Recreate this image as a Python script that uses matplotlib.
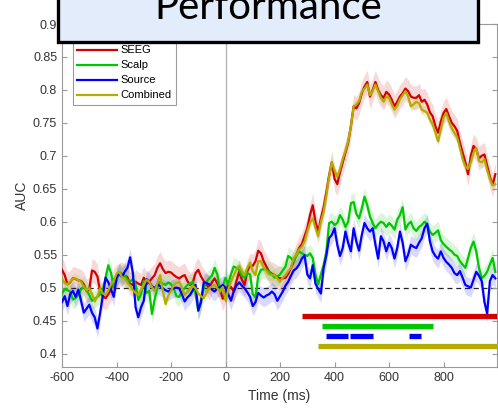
import numpy as np
import matplotlib
matplotlib.use('Agg')
import matplotlib.pyplot as plt
from matplotlib.patches import Rectangle

plt.rcParams['font.family'] = ['Liberation Sans', 'DejaVu Sans']
plt.rcParams['axes.unicode_minus'] = False

# time axis (ms)
time_ms = np.arange(-600, 1000, 10)

# AUC per modality (10 ms steps)
seeg = [
    0.527, 0.519, 0.505, 0.508, 0.514, 0.513, 0.511, 0.510, 0.505, 0.495,
    0.497, 0.526, 0.524, 0.517, 0.494, 0.487, 0.484, 0.490, 0.498, 0.512,
    0.517, 0.519, 0.521, 0.518, 0.516, 0.506, 0.504, 0.509, 0.506, 0.504,
    0.515, 0.505, 0.509, 0.514, 0.519, 0.530, 0.537, 0.528, 0.522, 0.524,
    0.523, 0.519, 0.516, 0.514, 0.517, 0.519, 0.510, 0.504, 0.508, 0.522,
    0.527, 0.517, 0.510, 0.505, 0.499, 0.508, 0.514, 0.506, 0.497, 0.483,
    0.495, 0.503, 0.501, 0.494, 0.510, 0.524, 0.512, 0.504, 0.525, 0.534,
    0.533, 0.540, 0.556, 0.552, 0.540, 0.532, 0.524, 0.521, 0.519, 0.516,
    0.514, 0.514, 0.515, 0.521, 0.530, 0.539, 0.550, 0.560, 0.566, 0.578,
    0.590, 0.610, 0.625, 0.600, 0.585, 0.605, 0.622, 0.645, 0.670, 0.690,
    0.665, 0.657, 0.675, 0.690, 0.705, 0.720, 0.745, 0.775, 0.772, 0.780,
    0.795, 0.805, 0.812, 0.790, 0.800, 0.812, 0.800, 0.792, 0.788, 0.797,
    0.793, 0.785, 0.775, 0.782, 0.790, 0.795, 0.802, 0.798, 0.790, 0.788,
    0.788, 0.792, 0.782, 0.785, 0.778, 0.766, 0.760, 0.745, 0.735, 0.752,
    0.765, 0.771, 0.760, 0.750, 0.745, 0.738, 0.720, 0.705, 0.690, 0.672,
    0.700, 0.715, 0.710, 0.696, 0.700, 0.702, 0.685, 0.668, 0.656, 0.672,
]
scalp = [
    0.491, 0.498, 0.496, 0.494, 0.482, 0.484, 0.489, 0.497, 0.503, 0.496,
    0.489, 0.480, 0.483, 0.486, 0.490, 0.497, 0.515, 0.534, 0.522, 0.500,
    0.510, 0.524, 0.521, 0.518, 0.512, 0.509, 0.513, 0.505, 0.481, 0.490,
    0.510, 0.492, 0.495, 0.460, 0.482, 0.500, 0.509, 0.506, 0.504, 0.508,
    0.505, 0.499, 0.487, 0.486, 0.494, 0.499, 0.504, 0.506, 0.509, 0.490,
    0.465, 0.480, 0.499, 0.509, 0.514, 0.518, 0.530, 0.520, 0.494, 0.502,
    0.515, 0.505, 0.520, 0.532, 0.530, 0.527, 0.518, 0.515, 0.522, 0.520,
    0.490, 0.485, 0.518, 0.527, 0.528, 0.527, 0.524, 0.520, 0.515, 0.517,
    0.520, 0.526, 0.532, 0.548, 0.545, 0.540, 0.548, 0.555, 0.552, 0.550,
    0.548, 0.552, 0.545, 0.520, 0.505, 0.520, 0.534, 0.555, 0.598, 0.600,
    0.595, 0.598, 0.610, 0.603, 0.592, 0.600, 0.628, 0.630, 0.612, 0.605,
    0.620, 0.638, 0.625, 0.608, 0.598, 0.590, 0.596, 0.600, 0.598, 0.592,
    0.598, 0.594, 0.588, 0.603, 0.610, 0.622, 0.588, 0.596, 0.600, 0.590,
    0.586, 0.592, 0.595, 0.600, 0.596, 0.585, 0.580, 0.583, 0.587, 0.572,
    0.566, 0.562, 0.558, 0.555, 0.550, 0.548, 0.540, 0.535, 0.530, 0.545,
    0.560, 0.570, 0.555, 0.530, 0.514, 0.518, 0.524, 0.535, 0.545, 0.524,
]
source = [
    0.478, 0.487, 0.472, 0.490, 0.495, 0.486, 0.497, 0.480, 0.462, 0.468,
    0.474, 0.462, 0.455, 0.438, 0.462, 0.488, 0.515, 0.508, 0.497, 0.486,
    0.515, 0.522, 0.516, 0.524, 0.530, 0.546, 0.522, 0.470, 0.455, 0.470,
    0.480, 0.513, 0.509, 0.502, 0.499, 0.505, 0.502, 0.499, 0.496, 0.494,
    0.497, 0.499, 0.500, 0.499, 0.490, 0.479, 0.485, 0.489, 0.496, 0.504,
    0.465, 0.478, 0.508, 0.507, 0.505, 0.497, 0.494, 0.499, 0.501, 0.504,
    0.500, 0.490, 0.480, 0.494, 0.503, 0.508, 0.503, 0.499, 0.493, 0.486,
    0.472, 0.478, 0.492, 0.488, 0.485, 0.488, 0.490, 0.494, 0.490, 0.480,
    0.487, 0.494, 0.503, 0.509, 0.518, 0.526, 0.529, 0.535, 0.544, 0.549,
    0.520, 0.514, 0.534, 0.506, 0.498, 0.491, 0.530, 0.549, 0.575, 0.580,
    0.590, 0.565, 0.548, 0.560, 0.585, 0.568, 0.555, 0.590, 0.570, 0.556,
    0.580, 0.598, 0.590, 0.585, 0.590, 0.565, 0.544, 0.578, 0.570, 0.555,
    0.568, 0.560, 0.544, 0.560, 0.585, 0.568, 0.540, 0.550, 0.565, 0.562,
    0.560, 0.568, 0.575, 0.590, 0.597, 0.570, 0.555, 0.548, 0.544, 0.555,
    0.545, 0.539, 0.535, 0.530, 0.522, 0.519, 0.525, 0.515, 0.504, 0.502,
    0.500, 0.512, 0.524, 0.518, 0.510, 0.478, 0.461, 0.510, 0.519, 0.514,
]
combined = [
    0.514, 0.507, 0.505, 0.509, 0.513, 0.514, 0.511, 0.509, 0.501, 0.496,
    0.499, 0.490, 0.479, 0.487, 0.499, 0.491, 0.489, 0.496, 0.505, 0.510,
    0.521, 0.524, 0.516, 0.514, 0.507, 0.503, 0.496, 0.492, 0.489, 0.497,
    0.504, 0.512, 0.509, 0.501, 0.494, 0.507, 0.519, 0.495, 0.475, 0.488,
    0.495, 0.504, 0.507, 0.509, 0.499, 0.489, 0.494, 0.499, 0.503, 0.499,
    0.491, 0.487, 0.484, 0.492, 0.499, 0.502, 0.504, 0.499, 0.494, 0.501,
    0.480, 0.497, 0.509, 0.518, 0.528, 0.533, 0.525, 0.519, 0.530, 0.538,
    0.525, 0.519, 0.540, 0.540, 0.531, 0.525, 0.520, 0.519, 0.519, 0.514,
    0.509, 0.515, 0.519, 0.525, 0.530, 0.545, 0.550, 0.558, 0.562, 0.570,
    0.585, 0.598, 0.605, 0.590, 0.578, 0.600, 0.615, 0.640, 0.668, 0.690,
    0.678, 0.668, 0.680, 0.695, 0.708, 0.722, 0.745, 0.775, 0.778, 0.783,
    0.797, 0.802, 0.808, 0.792, 0.798, 0.808, 0.798, 0.788, 0.782, 0.790,
    0.788, 0.778, 0.770, 0.776, 0.786, 0.792, 0.798, 0.790, 0.775, 0.778,
    0.782, 0.780, 0.770, 0.768, 0.765, 0.755, 0.748, 0.735, 0.722, 0.740,
    0.758, 0.765, 0.752, 0.742, 0.735, 0.728, 0.712, 0.695, 0.684, 0.680,
    0.690, 0.705, 0.712, 0.692, 0.690, 0.695, 0.678, 0.665, 0.655, 0.657,
]

# half width of the shaded error band
band = {'SEEG': 0.018, 'Scalp': 0.014, 'Source': 0.014, 'Combined': 0.008}

# significant time windows (start, end) in ms
sig_seeg = [(280, 1000)]
sig_scalp = [(355, 760)]
sig_source = [(370, 448), (456, 542), (675, 718)]
sig_combined = [(339, 1000)]
sig_level = {'SEEG': 0.457, 'Scalp': 0.442, 'Source': 0.427, 'Combined': 0.4115}

colors = {'SEEG': '#d40000', 'Scalp': '#00c800', 'Source': '#0000ff', 'Combined': '#b4ad00'}
series = {'SEEG': seeg, 'Scalp': scalp, 'Source': source, 'Combined': combined}
sigs = {'SEEG': sig_seeg, 'Scalp': sig_scalp, 'Source': sig_source, 'Combined': sig_combined}

fig = plt.figure(figsize=(4.98, 4.2), dpi=100)
ax = fig.add_axes([62 / 498, 1 - 366.7 / 420, (496.7 - 62) / 498, (366.7 - 24) / 420])

# chance level and stimulus onset
ax.axhline(0.5, color='#222222', lw=0.9, ls=(0, (4, 3)), zorder=1)
ax.axvline(0, color='#b4b4b4', lw=1.0, zorder=1)

for name, vals in series.items():
    y = np.array(vals)
    ax.fill_between(time_ms, y - band[name], y + band[name], color=colors[name],
                    alpha=0.15, lw=0, zorder=2)
for name, vals in series.items():
    ax.plot(time_ms, vals, color=colors[name], lw=1.6, label=name, zorder=3)
    for s, e in sigs[name]:
        ax.plot([s, e], [sig_level[name]] * 2, color=colors[name], lw=3.8,
                solid_capstyle='butt', zorder=3)

ax.set_xlim(-600, 995)
ax.set_ylim(0.38, 0.9)
ax.set_xticks(np.arange(-600, 801, 200))
yt = np.arange(0.4, 0.901, 0.05)
ax.set_yticks(yt)
ax.set_yticklabels(['%g' % round(v, 2) for v in yt])
ax.tick_params(direction='in', length=3.5, width=0.8, colors='#9a9a9a',
               labelcolor='#333333', labelsize=9, top=True, right=True)
for sp in ax.spines.values():
    sp.set_color('#9a9a9a')
    sp.set_linewidth(0.8)
ax.set_xlabel('Time (ms)', fontsize=10, color='#333333', labelpad=4)
ax.set_ylabel('AUC', fontsize=10, color='#333333', labelpad=3)

leg = ax.legend(loc='lower left', bbox_to_anchor=(0.025, 0.764), fontsize=8,
                handlelength=3.6, handletextpad=0.3, labelspacing=0.45,
                borderpad=0.4, fancybox=False, framealpha=1, borderaxespad=0)
leg.get_frame().set_edgecolor('#9a9a9a')
leg.get_frame().set_linewidth(0.8)

# title box
box = Rectangle((58 / 498, 1 - 41.5 / 420), (478 - 58) / 498, 0.2,
                transform=fig.transFigure, facecolor='#e3ecfa', edgecolor='black',
                lw=2.4, zorder=10, clip_on=False)
fig.add_artist(box)
fig.text(268.5 / 498, 1 - 19 / 420, 'Performance', ha='center', va='baseline',
         fontsize=29, family=['Lato', 'DejaVu Sans'], color='black', zorder=11)

plt.savefig('out.png', dpi=100)
